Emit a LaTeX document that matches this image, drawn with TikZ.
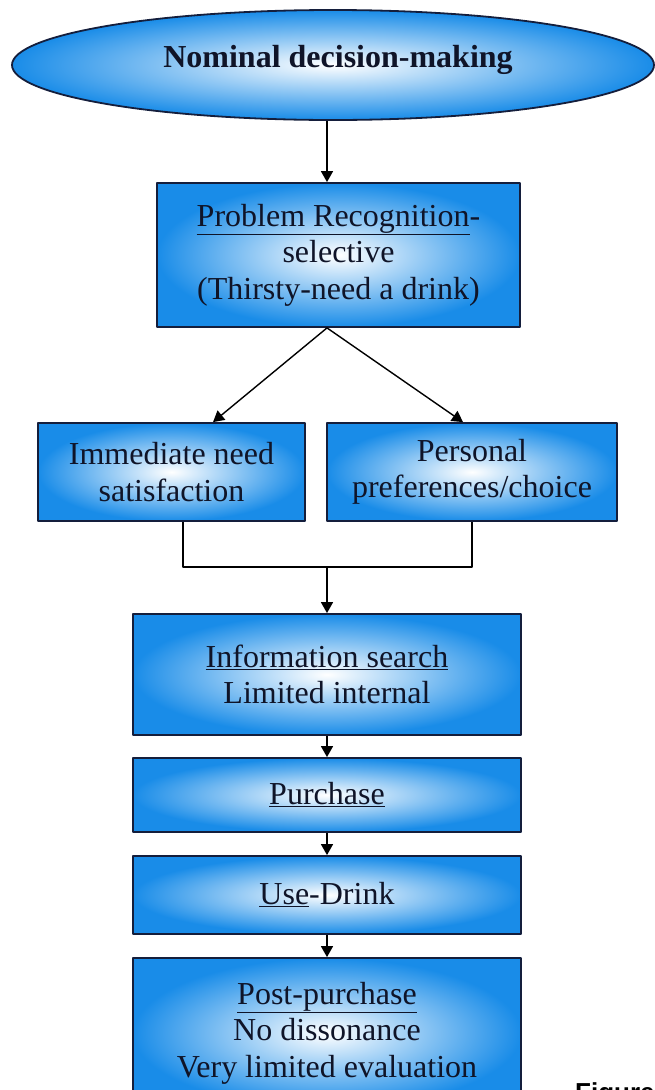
\documentclass[tikz,border=0pt]{standalone}
\usepackage{fontspec}
\setmainfont{Liberation Serif}
\newfontfamily\figfont{Liberation Sans}
\usetikzlibrary{shapes.geometric,arrows.meta}

\definecolor{boxblue}{RGB}{25,140,232}
\definecolor{edgenavy}{RGB}{20,30,60}
\definecolor{inknavy}{RGB}{15,20,40}

\tikzset{
  stage/.style={draw=edgenavy, line width=1.8pt, inner color=white, outer color=boxblue,
    align=center, text=inknavy, inner sep=0pt, font=\fontsize{32}{36.5}\selectfont},
  flow/.style={line width=1.4pt, -{Triangle[width=12pt,length=11pt]}},
  link/.style={line width=1.4pt},
}

\begin{document}
\begin{tikzpicture}[x=1pt, y=-1pt, line join=round]
    \useasboundingbox (0,0) rectangle (655,1090);

    % 顶部椭圆
    \node[stage, ellipse, minimum width=642pt, minimum height=110pt] (nominal) at (333,65) {};
    \node[text=inknavy, font=\fontsize{32}{36}\selectfont\bfseries] (nominaltext) at (338,60) {Nominal decision-making};

    % 各阶段方框
    \node[stage, minimum width=363pt, minimum height=144pt] (problem) at (338.5,255)
        {\underline{Problem Recognition}-\\selective\\(Thirsty-need a drink)};
    \node[stage, minimum width=267pt, minimum height=98pt] (immediate) at (171.5,472)
        {Immediate need\\satisfaction};
    \node[stage, minimum width=290pt, minimum height=98pt] (personal) at (472,472)
        {Personal\\preferences/choice};
    \node[stage, minimum width=388pt, minimum height=121pt] (info) at (327,674.5)
        {\underline{Information search}\\Limited internal};
    \node[stage, minimum width=388pt, minimum height=74pt] (purchase) at (327,795)
        {\underline{Purchase}};
    \node[stage, minimum width=388pt, minimum height=78pt] (use) at (327,895)
        {\underline{Use}-Drink};
    \node[stage, minimum width=388pt, minimum height=150pt] (post) at (327,1033)
        {\underline{Post-purchase}\\No dissonance\\Very limited evaluation};

    % 右下角被截断的图题
    \node[anchor=base west, inner sep=0pt, text=black, font=\figfont\fontsize{26}{30}\selectfont\bfseries] (figlabel) at (575,1101) {Figure};

    % 连线
    \coordinate (merge) at (327,567);
    \draw[flow] (nominal.south -| info.north) -- (problem.north -| info.north);
    \draw[flow] (problem.south -| info.north) -- ([xshift=41.5pt]immediate.north);
    \draw[flow] (problem.south -| info.north) -- ([xshift=-9pt]personal.north);
    \draw[link] ([xshift=11.5pt]immediate.south) |- (merge) -| (personal.south);
    \draw[flow] (merge) -- (info.north);
    \draw[flow] (info.south) -- (purchase.north);
    \draw[flow] (purchase.south) -- (use.north);
    \draw[flow] (use.south) -- (post.north);
\end{tikzpicture}
\end{document}
